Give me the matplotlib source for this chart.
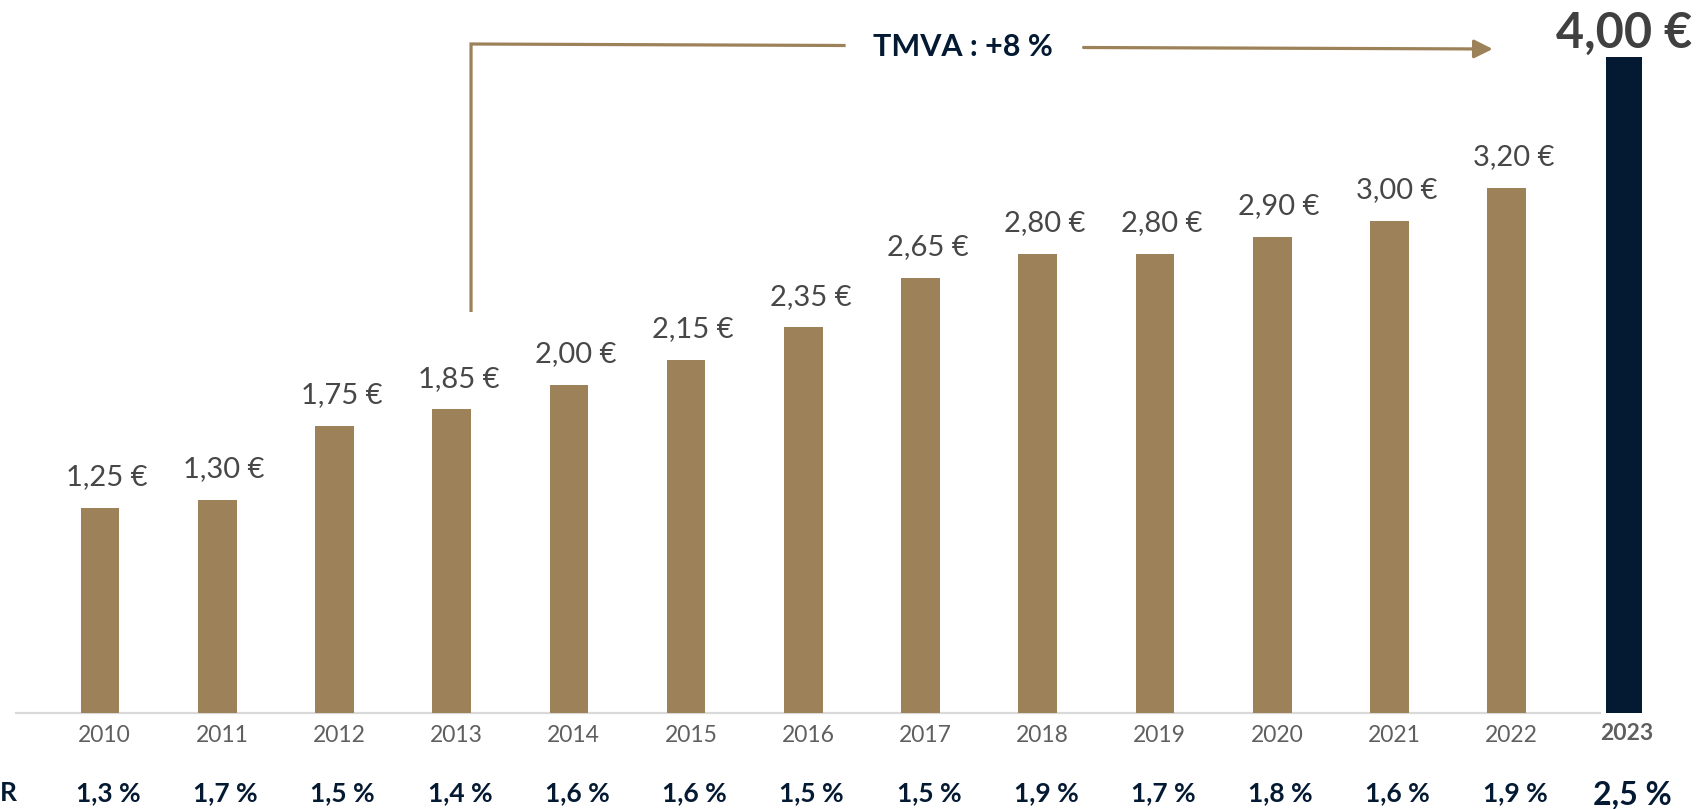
import matplotlib
matplotlib.use("Agg")
import matplotlib.pyplot as plt
import matplotlib.transforms as mtransforms

# ---- data ----
years = ["2010", "2011", "2012", "2013", "2014", "2015", "2016",
         "2017", "2018", "2019", "2020", "2021", "2022", "2023"]
dividends = [1.25, 1.30, 1.75, 1.85, 2.00, 2.15, 2.35,
             2.65, 2.80, 2.80, 2.90, 3.00, 3.20, 4.00]
yields_pct = ["1,3 %", "1,7 %", "1,5 %", "1,4 %", "1,6 %", "1,6 %", "1,5 %",
              "1,5 %", "1,9 %", "1,7 %", "1,8 %", "1,6 %", "1,9 %", "2,5 %"]
value_labels = ["1,25 €", "1,30 €", "1,75 €", "1,85 €", "2,00 €", "2,15 €", "2,35 €",
                "2,65 €", "2,80 €", "2,80 €", "2,90 €", "3,00 €", "3,20 €", "4,00 €"]
cagr_label = "TMVA : +8 %"
row_label = "R"

# ---- style ----
TAN = "#9D8159"
NAVY = "#041A33"
LABEL_GREY = "#474747"
YEAR_GREY = "#5f5f5f"
BASE_GREY = "#D9D9D9"
FONT = ["Lato", "DejaVu Sans"]

W, H = 1699, 809
fig = plt.figure(figsize=(W / 100, H / 100), dpi=100)
ax = fig.add_axes([0, 0, 1, 1])
ax.set_axis_off()

# pixel-based layout of the axes
px_per_x = 117.23
x0_px = 100
base_px = 712.7
px_per_y = 164.0
ax.set_xlim(-x0_px / px_per_x, (W - x0_px) / px_per_x)
ax.set_ylim(-(H - base_px) / px_per_y, base_px / px_per_y)

n = len(years)
xs = list(range(n))
last = n - 1
bar_w = 0.33
colors = [TAN] * last + [NAVY]
widths = [bar_w] * last + [0.31]
ax.bar(xs, dividends, width=widths, color=colors, zorder=2)

# baseline
ax.plot([-0.725, last - bar_w / 2 - 0.03], [0, 0], color=BASE_GREY, lw=1.6,
        solid_capstyle="butt", zorder=1)

trans = mtransforms.blended_transform_factory(ax.transData, ax.transAxes)

def yfrac(py):
    return 1 - py / H

# value labels
for i in range(last):
    ax.annotate(value_labels[i], (xs[i], dividends[i]), xytext=(5, 22),
                textcoords="offset points", ha="center", va="center",
                fontsize=21, color=LABEL_GREY, family=FONT, fontweight="normal")
ax.text(xs[last], yfrac(33), value_labels[last], transform=trans,
        ha="center", va="center", fontsize=35, fontweight="bold",
        color="#404040", family=FONT)

# year labels
for i in range(n):
    ax.text(xs[i] + (0.04 if i < last else 0.02), yfrac(736 if i < last else 733),
            years[i], transform=trans,
            ha="center", va="center", fontsize=16.5,
            fontweight="normal" if i < last else "bold",
            color=YEAR_GREY, family=FONT)

# yield labels
for i in range(n):
    ax.text(xs[i] + 0.07, yfrac(793 if i < last else 795), yields_pct[i], transform=trans,
            ha="center", va="center", fontsize=19 if i < last else 23,
            fontweight="bold", color=NAVY, family=FONT)
ax.text(0.0, yfrac(793), row_label, transform=ax.transAxes, ha="left", va="center",
        fontsize=19, fontweight="bold", color=NAVY, family=FONT)

# CAGR bracket + arrow
vx = 3 + bar_w / 2
ax.plot([vx, vx, 6.36], [yfrac(312), yfrac(44), yfrac(45.5)], transform=trans,
        color=TAN, lw=2.3, solid_joinstyle="miter", solid_capstyle="butt", zorder=3)
ax.text(7.36, yfrac(46.5), cagr_label, transform=trans, ha="center", va="center",
        fontsize=22, fontweight="bold", color=NAVY, family=FONT)
ax.annotate("", xy=(11.88, yfrac(49)), xytext=(8.39, yfrac(47.5)),
            xycoords=trans, textcoords=trans,
            arrowprops=dict(arrowstyle="-|>", mutation_scale=28, lw=2.3,
                            color=TAN, shrinkA=0, shrinkB=0))

fig.savefig("out.png", dpi=100)
